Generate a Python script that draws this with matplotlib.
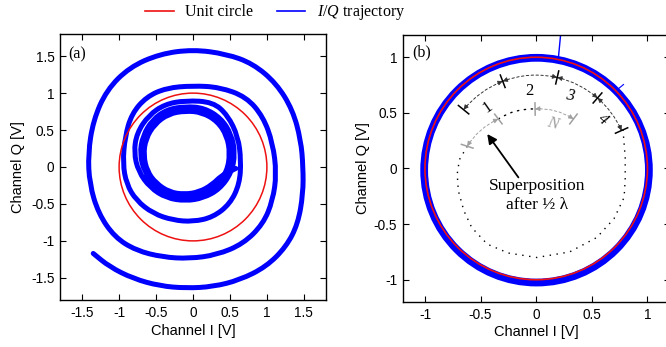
import numpy as np
import matplotlib
matplotlib.use('Agg')
import matplotlib.pyplot as plt
from matplotlib.patches import Circle, FancyArrowPatch, PathPatch
from matplotlib.path import Path
from matplotlib.lines import Line2D
from matplotlib.ticker import FuncFormatter, FixedLocator

plt.rcParams['font.family'] = ['Liberation Sans', 'DejaVu Sans']
plt.rcParams['mathtext.fontset'] = 'custom'
plt.rcParams['mathtext.it'] = 'Liberation Serif:italic'
plt.rcParams['mathtext.rm'] = 'Liberation Serif'
SERIF = ['Liberation Serif', 'DejaVu Serif']

# ---------------- data ----------------
# panel (a): I/Q trajectory (spiral)
traj_a_i = [-1.35, -1.13, -0.81, -0.45, -0.09, 0.27, 0.63, 0.99, 1.26, 1.42, 1.49, 1.49, 1.46, 1.35,
            1.13, 0.81, 0.45, 0.00, -0.45, -0.86, -1.17, -1.35, -1.42, -1.40, -1.28, -1.06, -0.77,
            -0.41, -0.05, 0.32, 0.68, 0.95, 1.08, 1.13, 1.08, 0.95, 0.72, 0.36, 0.00, -0.36, -0.63,
            -0.83, -0.92, -0.95, -0.90, -0.77, -0.54, -0.27, 0.00, 0.27, 0.50, 0.63, 0.65, 0.61,
            0.47, 0.27,
            -0.10, -0.38, -0.60, -0.76, -0.80, -0.74, -0.58, -0.36, -0.10, 0.14, 0.36, 0.52, 0.57,
            0.52, 0.38, 0.15,
            -0.10, -0.35, -0.55, -0.68, -0.72, -0.66, -0.52, -0.32, -0.10, 0.12, 0.32, 0.46, 0.50,
            0.46, 0.33, 0.12,
            -0.10, -0.33, -0.52, -0.64, -0.67, -0.62, -0.50, -0.32, -0.12, 0.08, 0.26, 0.40, 0.58]
traj_a_q = [-1.17, -1.35, -1.51, -1.61, -1.64, -1.62, -1.53, -1.35, -1.08, -0.77, -0.36, 0.00, 0.36,
            0.77, 1.13, 1.40, 1.53, 1.59, 1.53, 1.35, 1.04, 0.63, 0.18, -0.23, -0.63, -0.95, -1.13,
            -1.22, -1.24, -1.19, -1.04, -0.77, -0.45, -0.09, 0.32, 0.68, 0.95, 1.08, 1.10, 1.07, 0.95,
            0.72, 0.41, 0.05, -0.23, -0.45, -0.63, -0.72, -0.74, -0.68, -0.50, -0.23, 0.09, 0.41,
            0.70, 0.88,
            0.90, 0.85, 0.70, 0.46, 0.20, -0.06, -0.28, -0.42, -0.46, -0.42, -0.30, -0.08, 0.18,
            0.44, 0.66, 0.80,
            0.82, 0.78, 0.64, 0.42, 0.18, -0.06, -0.25, -0.38, -0.41, -0.37, -0.25, -0.06, 0.18,
            0.42, 0.62, 0.74,
            0.76, 0.72, 0.58, 0.38, 0.16, -0.06, -0.22, -0.34, -0.37, -0.34, -0.24, -0.10, -0.02]
ticks_a = [-1.5, -1, -0.5, 0, 0.5, 1, 1.5]

# panel (b)
ticks_b = [-1, -0.5, 0, 0.5, 1]
ring_center_b = (0.003, -0.015)
ring_radius_b = 1.01
spike_i = [0.20, 0.225]
spike_q = [1.00, 1.26]
spur_i = [0.73, 0.785]
spur_q = [0.71, 0.755]

seg_labels = ['1', '2', '3', '4']
seg_angles = [141, 111, 77, 49, 24]          # boundaries (deg)
seg_radius = 0.84
seg_label_i = [-0.44, -0.06, 0.30, 0.60]
seg_label_q = [0.55, 0.70, 0.65, 0.44]
seg_label_rot = [35, 0, -10, -40]

spiral_i = [0.78, 0.80, 0.80, 0.79, 0.70, 0.545, 0.30, 0.006, -0.25, -0.44, -0.58, -0.65, -0.70,
            -0.71, -0.69, -0.62]
spiral_q = [0.35, 0.10, -0.10, -0.26, -0.45, -0.62, -0.75, -0.80, -0.76, -0.68, -0.53, -0.38,
            -0.20, -0.05, 0.08, 0.20]
gray_i = [-0.62, -0.34, -0.01, 0.335]
gray_q = [0.20, 0.445, 0.535, 0.445]

# ---------------- figure ----------------
W, H = 666, 347
fig = plt.figure(figsize=(W / 100, H / 100), dpi=100)
axA = fig.add_axes([60 / W, 1 - 300 / H, 266 / W, 266 / H])
axB = fig.add_axes([402.7 / W, 1 - 302 / H, 267 / W, 267 / H])

fmt = FuncFormatter(lambda v, p: '%g' % v)
for ax in (axA, axB):
    ax.tick_params(direction='in', top=True, right=True, length=4, width=0.8,
                   labelsize=9.8, pad=4)
    for s in ax.spines.values():
        s.set_linewidth(1.0)
    ax.xaxis.set_major_formatter(fmt)
    ax.yaxis.set_major_formatter(fmt)

BLUE = '#0000ff'
RED = '#ee1111'


def smooth_path(xs, ys):
    """Quadratic-Bezier rendering of a polyline (library Path with CURVE3 codes)."""
    pts = np.column_stack([xs, ys])
    verts = [pts[0]]
    codes = [Path.MOVETO]
    mids = (pts[1:-1] + pts[2:]) / 2
    verts.append((pts[0] + pts[1]) / 2)
    codes.append(Path.LINETO)
    for k in range(1, len(pts) - 1):
        end = mids[k - 1] if k < len(pts) - 2 else pts[-1]
        verts += [pts[k], end]
        codes += [Path.CURVE3, Path.CURVE3]
    return Path(np.array(verts), codes)


# ---- panel (a)
axA.add_patch(PathPatch(smooth_path(traj_a_i, traj_a_q), fill=False, ec=BLUE, lw=3.6,
                        joinstyle='round', capstyle='round', zorder=2))
axA.add_patch(Circle((0, 0), 1, fill=False, ec=RED, lw=1.1, zorder=3))
axA.set_xlim(-1.8, 1.8)
axA.set_ylim(-1.8, 1.8)
axA.xaxis.set_major_locator(FixedLocator(ticks_a))
axA.yaxis.set_major_locator(FixedLocator(ticks_a))
axA.set_xlabel('Channel I [V]', fontsize=10.5)
axA.set_ylabel('Channel Q [V]', fontsize=10.5)
axA.xaxis.set_label_coords(0.5, -0.092)
axA.yaxis.set_label_coords(-0.13, 0.5)
axA.text(0.031, 0.925, '(a)', transform=axA.transAxes, family=SERIF, fontsize=11.5,
         ha='left', va='center')

# ---- panel (b)
axB.add_patch(Circle(ring_center_b, ring_radius_b, fill=False, ec=BLUE, lw=5.6, zorder=2))
axB.plot(spike_i, spike_q, color=BLUE, lw=1.0, zorder=2)
axB.plot(spur_i, spur_q, color=BLUE, lw=0.8, zorder=2)
axB.add_patch(Circle((0, 0), 1, fill=False, ec=RED, lw=1.2, zorder=3))
axB.set_xlim(-1.2, 1.2)
axB.set_ylim(-1.2, 1.2)
axB.xaxis.set_major_locator(FixedLocator(ticks_b))
axB.yaxis.set_major_locator(FixedLocator(ticks_b))
axB.set_xlabel('Channel I [V]', fontsize=10.5)
axB.set_ylabel('Channel Q [V]', fontsize=10.5)
axB.xaxis.set_label_coords(0.5, -0.085)
axB.yaxis.set_label_coords(-0.122, 0.5)
axB.text(0.034, 0.934, '(b)', transform=axB.transAxes, family=SERIF, fontsize=11.5,
         ha='left', va='center')


def dim_arc(ax, p1, p2, color, ls, lw=0.8, heads=True):
    p1 = np.asarray(p1, float)
    p2 = np.asarray(p2, float)
    a1 = np.arctan2(p1[1], p1[0])
    a2 = np.arctan2(p2[1], p2[0])
    theta = abs(a2 - a1)
    cross = p1[0] * p2[1] - p1[1] * p2[0]
    f = np.sign(cross) * np.tan(theta / 4)
    ax.add_patch(FancyArrowPatch(posA=p1, posB=p2, arrowstyle='-',
                                 connectionstyle='arc3,rad=%f' % f, linestyle=ls,
                                 lw=lw, color=color, shrinkA=0, shrinkB=0, zorder=4))
    if heads:
        d = p2 - p1
        c = (p1 + p2) / 2 + f * np.array([d[1], -d[0]])
        for p in (p1, p2):
            u = p - c
            u = u / np.hypot(*u)
            ax.annotate('', xy=p, xytext=p - 0.05 * u,
                        arrowprops=dict(arrowstyle='-|>', color=color, lw=0.6,
                                        mutation_scale=7, shrinkA=0, shrinkB=0), zorder=5)


def radial_tick(ax, p, color, t=0.05, lw=1.0):
    p = np.asarray(p, float)
    n = p / np.hypot(*p)
    ax.plot([p[0] - t * n[0], p[0] + t * n[0]], [p[1] - t * n[1], p[1] + t * n[1]],
            color=color, lw=lw, zorder=5)


GRAY = '#a0a0a0'
bpts = [(seg_radius * np.cos(np.radians(a)), seg_radius * np.sin(np.radians(a)))
        for a in seg_angles]
for k in range(len(seg_labels)):
    dim_arc(axB, bpts[k], bpts[k + 1], '#333333', (0, (2.5, 2.5)), lw=0.7)
for p in bpts:
    radial_tick(axB, p, 'black', t=0.06, lw=1.1)
for k, lab in enumerate(seg_labels):
    axB.text(seg_label_i[k], seg_label_q[k], lab, family=SERIF, fontsize=12,
             style='italic' if k >= 2 else 'normal', rotation=seg_label_rot[k],
             ha='center', va='center', zorder=6)

# dotted spiral continuation
axB.plot(spiral_i, spiral_q, color='black', lw=1.0, ls=(0, (1, 4)), zorder=4)

gpts = list(zip(gray_i, gray_q))
dim_arc(axB, gpts[0], gpts[1], GRAY, (0, (2.5, 2.5)), lw=0.7)
dim_arc(axB, gpts[1], gpts[2], 'black', (0, (1, 4)), lw=1.0, heads=False)
dim_arc(axB, gpts[2], gpts[3], GRAY, (0, (2.5, 2.5)), lw=0.7)
for p in gpts:
    radial_tick(axB, p, GRAY, t=0.055, lw=1.1)
axB.text(0.15, 0.40, 'N', family=SERIF, fontsize=12, style='italic', color=GRAY,
         rotation=-15, ha='center', va='center', zorder=6)

axB.annotate('', xy=(-0.44, 0.31), xytext=(-0.16, -0.08),
             arrowprops=dict(arrowstyle='-|>', color='black', lw=1.3, mutation_scale=14,
                             shrinkA=0, shrinkB=0), zorder=6)
axB.text(0.005, -0.16, 'Superposition', family=SERIF, fontsize=12.5, ha='center',
         va='center', zorder=6)
axB.text(0.005, -0.33, 'after ½ λ', family=SERIF, fontsize=12.5, ha='center',
         va='center', zorder=6)

# legend
handles = [Line2D([], [], color=RED, lw=1.2), Line2D([], [], color=BLUE, lw=1.2)]
fig.legend(handles, ['Unit circle', r'$I/Q$ trajectory'], loc='center',
           bbox_to_anchor=(0.413, 1 - 13 / H), ncol=2, frameon=False,
           prop=dict(family=SERIF, size=11.5), handlelength=1.8, columnspacing=1.5,
           handletextpad=0.7)

fig.savefig('out.png', dpi=100)
